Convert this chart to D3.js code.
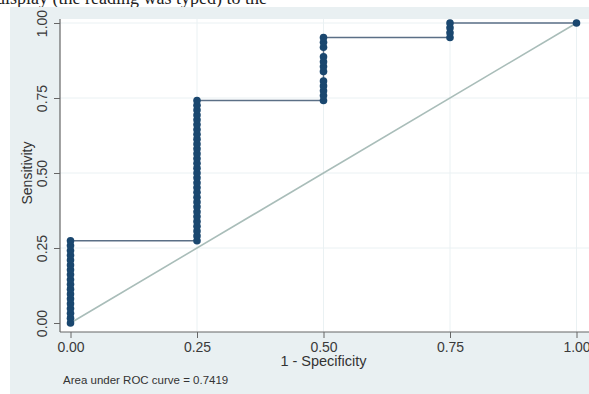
<!DOCTYPE html>
<html lang="en">
<head>
    <meta charset="UTF-8">
    <title>ROC curve</title>
    <script src="https://d3js.org/d3.v7.min.js"></script>
    <style>
        body { margin: 0; background: #ffffff; }
        svg { display: block; font-family: "Liberation Sans", Arial, sans-serif; }
    </style>
</head>
<body>
<svg width="589" height="394"></svg>
<script>
    // tick values and labels
    const xTicks = [0, 0.25, 0.5, 0.75, 1];
    const yTicks = [0, 0.25, 0.5, 0.75, 1];

    // ROC points: 1 - specificity and sensitivity at each cut-off
    const oneMinusSpec = [
        0, 0, 0, 0, 0, 0, 0, 0, 0, 0, 0, 0, 0, 0, 0, 0, 0, 0,
        0.25, 0.25, 0.25, 0.25, 0.25, 0.25, 0.25, 0.25, 0.25, 0.25,
        0.25, 0.25, 0.25, 0.25, 0.25, 0.25, 0.25, 0.25, 0.25, 0.25,
        0.25, 0.25, 0.25, 0.25, 0.25, 0.25, 0.25, 0.25, 0.25, 0.25,
        0.5, 0.5, 0.5, 0.5, 0.5, 0.5, 0.5, 0.5, 0.5, 0.5, 0.5, 0.5,
        0.75, 0.75, 0.75, 0.75,
        1
    ];
    const sensitivity = [
        0, 0.0161, 0.0323, 0.0484, 0.0645, 0.0806, 0.0968, 0.1129, 0.1290,
        0.1452, 0.1613, 0.1774, 0.1935, 0.2097, 0.2258, 0.2419, 0.2581, 0.2742,
        0.2742, 0.2903, 0.3065, 0.3226, 0.3387, 0.3548, 0.3710, 0.3871, 0.4032, 0.4194,
        0.4355, 0.4516, 0.4677, 0.4839, 0.5000, 0.5161, 0.5323, 0.5484, 0.5645, 0.5806,
        0.5968, 0.6129, 0.6290, 0.6452, 0.6613, 0.6774, 0.6935, 0.7097, 0.7258, 0.7419,
        0.7419, 0.7581, 0.7742, 0.7903, 0.8065, 0.8387, 0.8548, 0.8710, 0.8871, 0.9194, 0.9355, 0.9516,
        0.9516, 0.9677, 0.9839, 1,
        1
    ];
    const aucText = "Area under ROC curve = 0.7419";

    const svg = d3.select("svg");
    const points = oneMinusSpec.map((v, i) => ({x: v, y: sensitivity[i]}));

    // page bits: cropped line of text above the figure, graph background
    svg.append("text")
        .attr("x", -4).attr("y", 4)
        .style("font-family", "'Liberation Serif', serif")
        .style("font-size", "18px")
        .style("fill", "#222")
        .text("display (the reading was typed) to the");

    svg.append("rect")
        .attr("x", 10).attr("y", 7)
        .attr("width", 579).attr("height", 387)
        .style("fill", "#e9f0f2");

    const plotLeft = 60, plotRight = 589, plotTop = 19, plotBottom = 332;

    svg.append("rect")
        .attr("x", plotLeft).attr("y", plotTop)
        .attr("width", plotRight - plotLeft).attr("height", plotBottom - plotTop)
        .style("fill", "#ffffff");

    const x = d3.scaleLinear().domain([0, 1]).range([70.5, 576.5]);
    const y = d3.scaleLinear().domain([0, 1]).range([323, 23]);

    // faint grid
    svg.append("g").selectAll("line.vg")
        .data(xTicks.slice(1))
        .enter().append("line")
        .attr("x1", d => x(d)).attr("x2", d => x(d))
        .attr("y1", plotTop).attr("y2", plotBottom)
        .style("stroke", "#eaf1f3").style("stroke-width", 1);
    svg.append("g").selectAll("line.hg")
        .data(yTicks.slice(1))
        .enter().append("line")
        .attr("x1", plotLeft).attr("x2", plotRight)
        .attr("y1", d => y(d)).attr("y2", d => y(d))
        .style("stroke", "#eaf1f3").style("stroke-width", 1);

    // axes
    const xAxis = svg.append("g")
        .attr("transform", `translate(0, ${plotBottom})`)
        .call(d3.axisBottom(x).tickValues(xTicks).tickFormat(d3.format(".2f")).tickSize(6));
    xAxis.select(".domain").remove();
    xAxis.selectAll("line").style("stroke", "#666");
    xAxis.selectAll("text")
        .attr("y", 19.5).attr("dy", 0)
        .style("font-size", "14px")
        .style("fill", "#3a3a3a");

    const yAxis = svg.append("g")
        .attr("transform", `translate(${plotLeft}, 0)`)
        .call(d3.axisLeft(y).tickValues(yTicks).tickFormat(d3.format(".2f")).tickSize(6));
    yAxis.select(".domain").remove();
    yAxis.selectAll("line").style("stroke", "#666");
    yAxis.selectAll("text")
        .attr("transform", "rotate(-90)")
        .attr("x", 0).attr("y", -13).attr("dy", 0)
        .attr("text-anchor", "middle")
        .style("font-size", "14px")
        .style("fill", "#3a3a3a");

    svg.append("line")
        .attr("x1", plotLeft).attr("x2", plotRight)
        .attr("y1", plotBottom).attr("y2", plotBottom)
        .style("stroke", "#666").style("stroke-width", 1.2);
    svg.append("line")
        .attr("x1", plotLeft).attr("x2", plotLeft)
        .attr("y1", plotTop).attr("y2", plotBottom)
        .style("stroke", "#666").style("stroke-width", 1.2);

    // axis titles
    svg.append("text")
        .attr("x", (x(0) + x(1)) / 2).attr("y", 365.5)
        .attr("text-anchor", "middle")
        .style("font-size", "14.5px")
        .style("fill", "#333")
        .text("1 - Specificity");

    svg.append("text")
        .attr("transform", `translate(32, ${y(0.5)}) rotate(-90)`)
        .attr("text-anchor", "middle")
        .style("font-size", "14px")
        .style("fill", "#333")
        .text("Sensitivity");

    // reference diagonal
    svg.append("line")
        .attr("x1", x(0)).attr("y1", y(0))
        .attr("x2", x(1)).attr("y2", y(1))
        .style("stroke", "#a9bdb9").style("stroke-width", 1.6);

    // ROC curve
    const line = d3.line().x(d => x(d.x)).y(d => y(d.y));
    svg.append("path")
        .datum(points)
        .attr("d", line)
        .style("fill", "none")
        .style("stroke", "#5b6f86")
        .style("stroke-width", 1.5);

    svg.append("g").selectAll("circle")
        .data(points)
        .enter().append("circle")
        .attr("cx", d => x(d.x))
        .attr("cy", d => y(d.y))
        .attr("r", 3.8)
        .style("fill", "#1a476f");

    svg.append("text")
        .attr("x", 63).attr("y", 384)
        .style("font-size", "11.5px")
        .style("fill", "#333")
        .text(aucText);
</script>
</body>
</html>
